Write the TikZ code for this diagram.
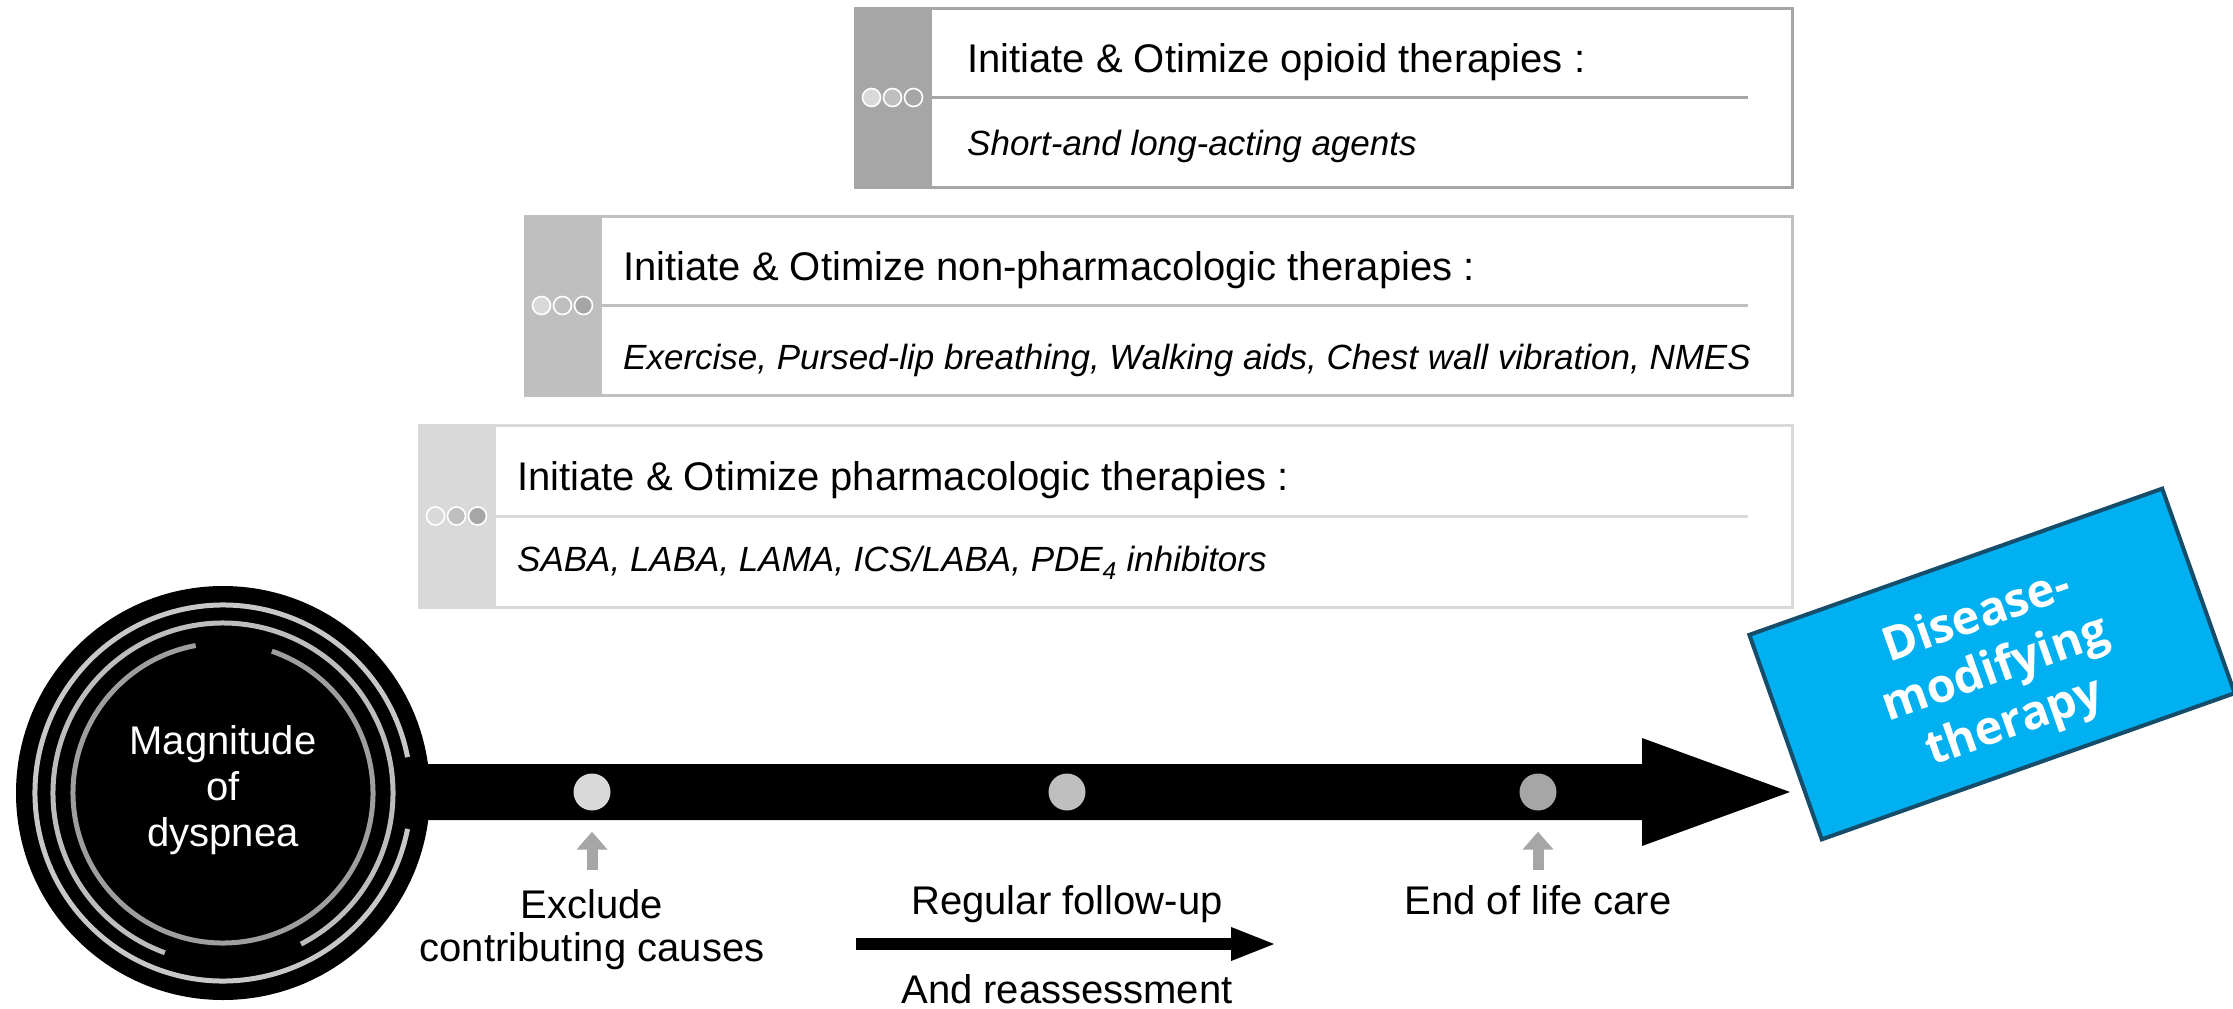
\documentclass[tikz,border=0pt]{standalone}
\usepackage{fontspec}
\setmainfont{Liberation Sans}
\newfontfamily\bannerfont{Open Sans}
\usetikzlibrary{arrows.meta}

\definecolor{tabdark}{HTML}{A6A6A6}
\definecolor{tabmid}{HTML}{BFBFBF}
\definecolor{tablight}{HTML}{D9D9D9}
\definecolor{ringlight}{HTML}{C8C8C8}
\definecolor{ringmid}{HTML}{BDBDBD}
\definecolor{ringdark}{HTML}{9E9E9E}
\definecolor{dmtblue}{HTML}{00B0F0}
\definecolor{dmtedge}{HTML}{164D6B}

\begin{document}
\begin{tikzpicture}[x=1pt,y=-1pt,
  boxframe/.style={draw=#1, line width=3pt, inner sep=0pt, minimum height=179pt},
  tabdot/.style={circle, draw=white, line width=1.6pt, fill=#1, minimum size=18pt, inner sep=0pt},
  titletext/.style={anchor=base west, inner sep=0pt, font=\fontsize{40pt}{46pt}\selectfont},
  subtext/.style={anchor=base west, inner sep=0pt, font=\fontsize{35pt}{42pt}\selectfont\itshape},
  steplabel/.style={align=center, inner sep=0pt, font=\fontsize{40pt}{43pt}\selectfont},
  timedot/.style={circle, fill=#1, minimum size=37pt, inner sep=0pt},
  uparrow/.style={draw=tabdark, line width=11pt, -{Triangle[length=18pt,width=30pt]}},
  ring/.style={line width=5pt}]

\fill[white] (0,0) rectangle (2233,1009);
\useasboundingbox (0,0) rectangle (2233,1009);

% ---- therapy boxes -------------------------------------------------
\node[boxframe=tabdark,  minimum width=937pt]  (box1) at (1323.5,97.5) {};
\node[boxframe=tabmid,   minimum width=1267pt] (box2) at (1158.5,305.5) {};
\node[boxframe=tablight, minimum width=1373pt, minimum height=182pt] (box3) at (1105.5,516) {};

\foreach \b/\col in {box1/tabdark, box2/tabmid, box3/tablight}{
  \fill[\col] (\b.north west) rectangle ([xshift=78pt]\b.south west);
  \draw[\col, line width=3pt] ([xshift=78pt]\b.west) -- ([xshift=-46pt]\b.east);
  \foreach \c [count=\i] in {tablight, tabmid, tabdark}
    \node[tabdot=\c] (\b-dot\i) at ([xshift={18pt+21pt*(\i-1)}]\b.west) {};
}

\node[titletext] (box1-title) at (967,72)  {Initiate \& Otimize opioid therapies :};
\node[subtext]   (box1-sub)   at (967,155) {Short-and long-acting agents};
\node[titletext] (box2-title) at (623,280) {Initiate \& Otimize non-pharmacologic therapies :};
\node[subtext]   (box2-sub)   at (623,369) {Exercise, Pursed-lip breathing, Walking aids, Chest wall vibration, NMES};
\node[titletext] (box3-title) at (517,490) {Initiate \& Otimize pharmacologic therapies :};
\node[subtext]   (box3-sub)   at (517,571) {SABA, LABA, LAMA, ICS/LABA, PDE\textsubscript{4} inhibitors};

% ---- timeline bar with block arrow head ----------------------------
\fill[black] (400,764) -- (1642,764) -- (1642,738) -- (1790,792)
  -- (1642,846) -- (1642,820) -- (400,820) -- cycle;

\node[timedot=tablight] (dot1) at (592,792)  {};
\node[timedot=tabmid]   (dot2) at (1067,792) {};
\node[timedot=tabdark]  (dot3) at (1538,792) {};

% ---- starting disc with rings ---------------------------------------
\node[circle, fill=black, minimum size=414pt, inner sep=0pt] (mag) at (223,793) {};
\draw[ring, ringlight] (mag.center) ++(-11:188) arc[start angle=-11, end angle=-349, radius=188];
\draw[ring, ringmid]   (mag.center) ++(62.7:170) arc[start angle=62.7, end angle=-250, radius=170];
\draw[ring, ringdark]  (mag.center) ++(-100.5:150) arc[start angle=-100.5, end angle=-431, radius=150];
\node[align=center, text=white, inner sep=0pt, font=\fontsize{40pt}{46pt}\selectfont]
  (magtext) at (223,790) {Magnitude\\of\\dyspnea};

% ---- markers and labels under the timeline --------------------------
\coordinate (up1) at (592,870);
\coordinate (up3) at (1538,870);
\draw[uparrow, shorten >=21pt] (up1) -- (dot1);
\draw[uparrow, shorten >=21pt] (up3) -- (dot3);

\node[steplabel] (exclude) at (592,930) {Exclude\\contributing causes};
\node[steplabel, anchor=base] (followup) at (1067,914) {Regular follow-up};
\node[steplabel, anchor=base] (reassess) at (1067,1003) {And reassessment};
\node[steplabel, anchor=base] (endlife) at (1538,914) {End of life care};

\coordinate (fu-start) at (856,944);
\coordinate (fu-end) at (1277,944);
\draw[line width=12pt, -{Triangle[length=46pt,width=30pt]}] (fu-start) -- (fu-end);

% ---- tilted banner ---------------------------------------------------
\node[draw=dmtedge, fill=dmtblue, line width=4pt, minimum width=438pt, minimum height=217pt,
      rotate=19.5, inner sep=0pt] (dmt) at (1992,664) {};
\node[rotate=19.5, align=center, text=white, inner sep=0pt,
      font=\bannerfont\bfseries\fontsize{47pt}{56pt}\selectfont]
  (dmt-text) at (1996,671) {Disease-\\modifying\\therapy};

\end{tikzpicture}
\end{document}
